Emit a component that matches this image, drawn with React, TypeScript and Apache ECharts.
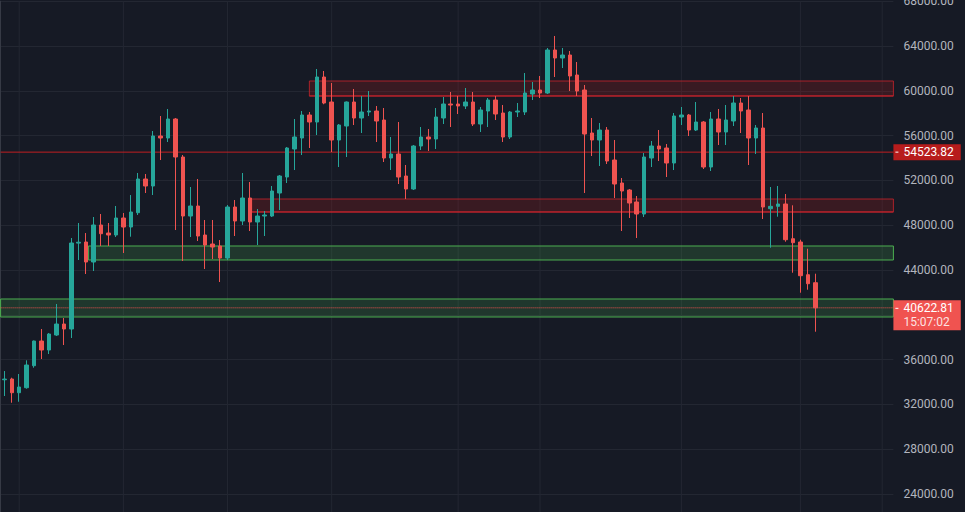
import React, { useEffect, useRef } from "react";
import * as echarts from "echarts";

// Daily candles (open / close / low / high)
const opens = [
  34200, 34266, 33043, 33490, 35454, 37659, 36855, 38195, 39177, 38731,
  46400, 46499, 44713, 48017, 47302, 47124, 48642, 47838, 49115, 52124,
  51499, 55964, 55785, 57481, 54088, 48820, 49713, 47124, 46320, 46142,
  45070, 49624, 48374, 50428, 48285, 48820, 48820, 50874, 52303, 54803,
  55785, 57838, 57214, 61232, 58999, 55607, 56857, 59000, 57571, 58107,
  58196, 57392, 54000, 54357, 52392, 51231, 55071, 55874, 55696, 57571,
  58821, 58821, 58642, 59000, 57035, 58196, 59178, 58017, 55874, 58107,
  58107, 59714, 60071, 59803, 63643, 62928, 63196, 61410, 60071, 56232,
  55607, 56500, 53821, 51767, 51142, 50071, 48999, 54000, 55071, 54892,
  53553, 57660, 57838, 56500, 57214, 53196, 57481, 56321, 57303, 58910,
  58285, 55785, 56678, 49472, 49686, 49892, 46794, 46500, 43580, 42865,
];
const closes = [
  34260, 33043, 33552, 35516, 37659, 36855, 38284, 39177, 38731, 46410,
  46480, 44713, 48017, 47240, 47124, 48642, 47838, 49178, 52124, 51499,
  55964, 55785, 57481, 54088, 48820, 49713, 47035, 46231, 46052, 45070,
  49624, 48374, 50428, 48285, 48820, 48910, 51053, 52392, 54892, 55874,
  57838, 57214, 61232, 58910, 55607, 56946, 59000, 57571, 58107, 58196,
  57303, 54000, 54357, 52303, 51231, 55071, 55874, 55696, 57660, 58821,
  58730, 58642, 59000, 57035, 58285, 59178, 57928, 55874, 58107, 58196,
  59803, 60071, 59803, 63643, 62928, 63196, 61321, 59982, 56142, 55607,
  56500, 53731, 51678, 51053, 49981, 48999, 54088, 55071, 54803, 53553,
  57749, 57838, 56500, 57214, 53196, 57481, 56321, 57392, 58910, 58196,
  55785, 56678, 49624, 49686, 49892, 46704, 46437, 43490, 42776, 40622.81,
];
const lows = [
  32750, 32150, 32239, 33400, 35275, 36052, 36498, 38105, 37302, 37927,
  44892, 43642, 43909, 46142, 46142, 46946, 45517, 46972, 48910, 50874,
  50695, 53821, 55428, 47570, 44802, 46946, 46588, 44088, 44981, 42927,
  44892, 47035, 48017, 47481, 46231, 47035, 48730, 49356, 51767, 52927,
  54267, 54892, 56053, 58800, 54535, 53196, 54088, 56946, 56232, 57749,
  55428, 53642, 52927, 51678, 50338, 51142, 54714, 54625, 54803, 57035,
  56767, 57928, 58374, 56857, 56321, 56767, 57392, 55428, 55696, 57660,
  57838, 59178, 59357, 59714, 61232, 62035, 59982, 59535, 50874, 54178,
  53285, 53464, 50428, 47481, 48642, 46856, 48731, 53196, 53731, 52303,
  52927, 56946, 55964, 56410, 53017, 52838, 55160, 55160, 56857, 56232,
  53374, 54357, 48553, 45990, 48758, 46526, 43757, 41972, 42240, 38490,
];
const highs = [
  34980, 34382, 34713, 35936, 37700, 38731, 38373, 40963, 39713, 46856,
  48195, 47302, 48731, 48999, 48195, 49713, 49088, 50695, 52660, 52571,
  56410, 57749, 58374, 57571, 54267, 51410, 52124, 48463, 48463, 46677,
  49802, 50249, 52660, 51856, 49445, 49266, 51499, 52481, 54981, 57481,
  58196, 58107, 61946, 61767, 60696, 57035, 59050, 60160, 59535, 59982,
  58642, 58464, 55874, 57214, 53374, 55160, 56767, 56589, 58464, 59446,
  59892, 59535, 60249, 59892, 58553, 59357, 59535, 58732, 58196, 58910,
  61589, 60785, 61321, 63821, 64893, 63821, 63553, 62571, 60517, 57571,
  57125, 56767, 55607, 52213, 51231, 50606, 54446, 55518, 56500, 55249,
  58017, 58553, 57928, 59000, 57300, 58107, 58374, 58732, 59535, 59357,
  59535, 56946, 58017, 51410, 51499, 50785, 49776, 46704, 45900, 43668,
];

// Time slots on the x axis (candles + empty space on the right)
const SLOTS = 120;
const timeGridSlots = [2, 16, 30, 44, 61, 72, 91, 107, 118];

// Price axis
const Y_MIN = 20000;
const Y_MAX = 68000;
const Y_STEP = 4000;
// tick labels hidden in the picture (below the frame / under the price tag)
const hiddenTickLabels = [20000, 40000];

// Levels and zones
const resistanceLevel = 54523.82;
const countdown = "15:07:02";
const zoneStarts = [41.5, 33.75, 11.8, -0.5];
const zoneTops = [60875, 50339, 46143, 41411];
const zoneBottoms = [59536, 49179, 44893, 39804];
const zoneTones = ["red", "red", "green", "green"];

const UP = "#26a69a";
const DOWN = "#ef5350";
const BG = "#161a25";
const GRID = "#232732";
const FONT = "Roboto";

export default function App() {
  const ref = useRef<HTMLDivElement>(null);

  useEffect(() => {
    if (!ref.current) return;
    const chart = echarts.init(ref.current, null, { renderer: "svg" });

    const categories = Array.from({ length: SLOTS }, (_, i) => String(i));
    const candleData = opens.map((o, i) => [o, closes[i], lows[i], highs[i]]);
    const last = closes[closes.length - 1];

    const baseLine = {
      type: "line" as const,
      xAxisIndex: 1,
      yAxisIndex: 0,
      symbol: "none",
      showSymbol: false,
      silent: true,
      animation: false,
      clip: false,
    };

    const gridSeries = timeGridSlots.map((k) => ({
      ...baseLine,
      z: 0,
      data: [
        [k + 0.5, Y_MIN],
        [k + 0.5, Y_MAX],
      ],
      lineStyle: { color: GRID, width: 1 },
    }));

    const zoneAreas = zoneStarts.map((s, i) => {
      const red = zoneTones[i] === "red";
      return [
        {
          xAxis: s,
          yAxis: zoneTops[i],
          itemStyle: {
            color: red ? "rgba(183,28,28,0.22)" : "rgba(76,175,80,0.2)",
            borderColor: red ? "rgba(200,36,44,0.8)" : "#4caf50",
            borderWidth: 1,
          },
        },
        { xAxis: SLOTS, yAxis: zoneBottoms[i] },
      ];
    });

    const zoneBottomLines = zoneStarts
      .map((s, i) => ({ s, i }))
      .filter(({ i }) => zoneTones[i] === "red")
      .map(({ s, i }) => ({
        ...baseLine,
        z: 1,
        data: [
          [s, zoneBottoms[i]],
          [SLOTS, zoneBottoms[i]],
        ],
        lineStyle: { color: "#c8242c", width: 1 },
      }));

    const option: any = {
      animation: false,
      backgroundColor: BG,
      grid: {
        left: 0.6,
        right: 71.6,
        top: 1.2,
        bottom: -26.8,
        containLabel: false,
        outerBoundsMode: "none",
      },
      xAxis: [
        {
          type: "category",
          data: categories,
          boundaryGap: true,
          axisLine: { show: false },
          axisTick: { show: false },
          axisLabel: { show: false },
          splitLine: { show: false },
        },
        { type: "value", min: 0, max: SLOTS, show: false },
      ],
      yAxis: {
        type: "value",
        position: "right",
        min: Y_MIN,
        max: Y_MAX,
        interval: Y_STEP,
        axisLine: { show: true, lineStyle: { color: "#363a45", width: 1 } },
        axisTick: { show: false },
        axisLabel: {
          margin: 10,
          color: "#b2b5be",
          fontSize: 12,
          fontFamily: FONT,
          formatter: (v: number) => (hiddenTickLabels.includes(v) ? "" : v.toFixed(2)),
        },
        splitLine: { show: true, lineStyle: { color: GRID, width: 1 } },
      },
      series: [
        ...gridSeries,
        {
          ...baseLine,
          z: 1,
          clip: true,
          data: [],
          markArea: { silent: true, data: zoneAreas },
        },
        ...zoneBottomLines,
        {
          ...baseLine,
          z: 1,
          data: [
            [0, resistanceLevel],
            [SLOTS, resistanceLevel],
          ],
          lineStyle: { color: "#c01f22", width: 1 },
          endLabel: {
            show: true,
            distance: 0,
            align: "left",
            verticalAlign: "middle",
            backgroundColor: "#b71c1c",
            padding: [1, 7, 1, 2],
            formatter: () => `{t|}{v|${resistanceLevel.toFixed(2)}}`,
            rich: {
              t: { width: 3, height: 1, backgroundColor: "#ffffff" },
              v: { color: "#ffffff", fontSize: 12, fontFamily: FONT, lineHeight: 14, padding: [0, 0, 0, 5] },
            },
          },
        },
        {
          ...baseLine,
          z: 1,
          data: [
            [0, last],
            [SLOTS, last],
          ],
          lineStyle: { color: DOWN, width: 1, type: "dotted" },
          endLabel: {
            show: true,
            distance: 0,
            align: "left",
            verticalAlign: "middle",
            offset: [0, 7.5],
            backgroundColor: "#f05350",
            padding: [1, 7, 1, 2],
            formatter: () => `{t|}{v|${last.toFixed(2)}}\n{s|${countdown}}`,
            rich: {
              t: { width: 3, height: 1, backgroundColor: "#ffffff" },
              v: { color: "#ffffff", fontSize: 12, fontFamily: FONT, lineHeight: 14, padding: [0, 0, 0, 5] },
              s: { color: "rgba(255,255,255,0.85)", fontSize: 12, fontFamily: FONT, lineHeight: 14, padding: [0, 0, 0, 8] },
            },
          },
        },
        {
          type: "candlestick",
          xAxisIndex: 0,
          yAxisIndex: 0,
          z: 3,
          barWidth: 4,
          silent: true,
          data: candleData,
          itemStyle: {
            color: UP,
            color0: DOWN,
            borderColor: UP,
            borderColor0: DOWN,
            borderWidth: 1,
          },
        },
      ],
    };

    chart.setOption(option);
    return () => chart.dispose();
  }, []);

  return (
    <div
      ref={ref}
      style={{ position: "fixed", left: 0, top: 0, width: 965, height: 512 }}
    />
  );
}
